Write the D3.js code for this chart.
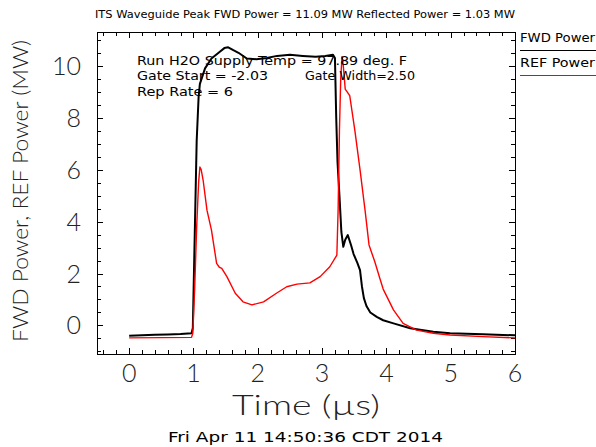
<!DOCTYPE html>
<html><head><meta charset="utf-8">
<script src="https://cdn.jsdelivr.net/npm/d3@7"></script>
<style>
html,body{margin:0;padding:0;background:#fff;}
svg{display:block;}
.big{font-family:Lato,"DejaVu Sans",sans-serif;font-weight:300;fill:#222;}
.small{font-family:"DejaVu Sans",sans-serif;fill:#000;}
</style></head>
<body>
<svg id="c" width="596" height="447"></svg>
<script>
// ---- data ----
const titleText = "ITS Waveguide Peak FWD Power = 11.09 MW  Reflected Power = 1.03 MW";
const annotLines = ["Run H2O Supply Temp = 97.89 deg. F", "Gate Start = -2.03", "Gate Width=2.50", "Rep Rate = 6"];
const dateText = "Fri Apr 11 14:50:36 CDT 2014";
const xTicks = [0, 1, 2, 3, 4, 5, 6];
const yTicks = [0, 2, 4, 6, 8, 10];
const seriesNames = ["FWD Power", "REF Power"];
const fwdTime = [0.0,0.2,0.4,0.6,0.8,0.97,0.99,1.02,1.05,1.08,1.10,1.18,1.28,1.41,1.48,1.54,1.62,1.70,1.83,1.98,2.14,2.3,2.5,2.7,2.9,3.05,3.17,3.20,3.22,3.24,3.27,3.30,3.33,3.36,3.40,3.45,3.49,3.55,3.59,3.62,3.65,3.69,3.75,3.85,3.95,4.11,4.37,4.73,4.99,5.5,6.0];
const fwdValue = [-0.40,-0.38,-0.36,-0.35,-0.33,-0.30,-0.1,3.5,7.1,8.8,9.3,9.9,10.28,10.54,10.68,10.71,10.6,10.5,10.28,10.25,10.3,10.38,10.42,10.38,10.35,10.38,10.42,10.3,8.0,6.3,5.0,3.6,3.03,3.3,3.48,3.1,2.75,2.4,2.13,1.5,1.05,0.75,0.5,0.33,0.2,0.08,-0.11,-0.24,-0.30,-0.34,-0.38];
const refTime = [0,0.5,0.97,0.99,1.02,1.05,1.08,1.10,1.12,1.15,1.21,1.28,1.36,1.40,1.44,1.52,1.65,1.77,1.91,2.09,2.29,2.45,2.61,2.81,2.97,3.12,3.23,3.25,3.27,3.29,3.31,3.33,3.36,3.43,3.51,3.59,3.67,3.73,3.82,3.90,3.95,4.11,4.26,4.47,4.73,4.99,5.5,6.0];
const refValue = [-0.48,-0.47,-0.46,-0.3,1.5,3.8,5.5,6.1,6.0,5.6,4.44,3.67,2.39,2.25,2.2,1.88,1.24,0.91,0.79,0.91,1.24,1.49,1.59,1.64,1.88,2.26,2.71,4.5,7.5,9.5,10.35,10.0,9.1,8.85,7.5,6.0,4.4,3.1,2.45,1.8,1.4,0.6,0.08,-0.18,-0.30,-0.37,-0.43,-0.48];

// ---- layout ----
const L = 97, R = 515, T = 32, B = 354;
const svg = d3.select("#c");
const x = d3.scaleLinear().domain([-0.5, 6]).range([L, R]);
const y = d3.scaleLinear().domain([-1.1, 11.3]).range([B, T]);

const xMinor = d3.range(-0.4, 6.0001, 0.2).map(v => +v.toFixed(2));
const yMinor = d3.range(-1.0, 11.0001, 0.5).map(v => +v.toFixed(2));
const isMaj = (arr, v) => arr.some(t => Math.abs(t - v) < 1e-6);

// plot frame
svg.append("rect").attr("x", L + 0.5).attr("y", T + 0.5).attr("width", R - L).attr("height", B - T)
  .attr("fill", "none").attr("stroke", "#000").attr("stroke-width", 1);

// ticks (inward on all four sides)
const tk = svg.append("g").attr("stroke", "#000").attr("stroke-width", 1);
xMinor.forEach(v => {
  const len = isMaj(xTicks, v) ? 6 : 4;
  const px = Math.round(x(v)) + 0.5;
  tk.append("line").attr("x1", px).attr("x2", px).attr("y1", B).attr("y2", B - len);
  tk.append("line").attr("x1", px).attr("x2", px).attr("y1", T).attr("y2", T + len);
});
yMinor.forEach(v => {
  const len = isMaj(yTicks, v) ? 6 : 4;
  const py = Math.round(y(v)) + 0.5;
  tk.append("line").attr("y1", py).attr("y2", py).attr("x1", L).attr("x2", L + len);
  tk.append("line").attr("y1", py).attr("y2", py).attr("x1", R).attr("x2", R - len);
});

// tick labels
svg.append("g").selectAll("text").data(xTicks).join("text")
  .attr("class", "big").attr("x", d => x(d)).attr("y", 382)
  .attr("text-anchor", "middle").attr("font-size", 25).text(d => d);
svg.append("g").selectAll("text").data(yTicks).join("text")
  .attr("class", "big").attr("x", 81).attr("y", d => y(d) + 9)
  .attr("text-anchor", "end").attr("font-size", 25).text(d => d);

// axis titles
svg.append("text").attr("class", "big").attr("x", 232).attr("y", 415)
  .attr("font-size", 28).attr("textLength", 148).attr("lengthAdjust", "spacingAndGlyphs").text("Time (\u00b5s)");
svg.append("text").attr("class", "big").attr("transform", "translate(28,342) rotate(-90)")
  .attr("x", 0).attr("y", 0).attr("font-size", 21).attr("textLength", 302).attr("lengthAdjust", "spacingAndGlyphs")
  .text("FWD Power, REF Power (MW)");

// title & date
svg.append("text").attr("class", "small").attr("x", 95).attr("y", 18)
  .attr("font-size", 11).attr("textLength", 420).attr("lengthAdjust", "spacingAndGlyphs").text(titleText);
svg.append("text").attr("class", "small").attr("x", 168).attr("y", 442)
  .attr("font-size", 13.5).attr("textLength", 275).attr("lengthAdjust", "spacingAndGlyphs").text(dateText);

// curves
const line = d3.line().x(d => x(d[0])).y(d => y(d[1]));
svg.append("path").datum(d3.zip(fwdTime, fwdValue)).attr("d", line)
  .attr("fill", "none").attr("stroke", "#000").attr("stroke-width", 2).attr("stroke-linejoin", "round");
svg.append("path").datum(d3.zip(refTime, refValue)).attr("d", line)
  .attr("fill", "none").attr("stroke", "#ff0000").attr("stroke-width", 1.4).attr("stroke-linejoin", "round");

// annotations
const ann = [
  {t: annotLines[0], x: 137, y: 65, w: 270},
  {t: annotLines[1], x: 137, y: 80, w: 131},
  {t: annotLines[2], x: 305, y: 80, w: 110},
  {t: annotLines[3], x: 137, y: 96, w: 96}
];
svg.append("g").selectAll("text").data(ann).join("text").attr("class", "small")
  .attr("x", d => d.x).attr("y", d => d.y).attr("font-size", 12)
  .attr("textLength", d => d.w).attr("lengthAdjust", "spacingAndGlyphs").text(d => d.t);

// legend
const legColors = ["#000", "#ff0000"];
seriesNames.forEach((n, i) => {
  svg.append("text").attr("class", "small").attr("x", 520).attr("y", 42 + i * 25)
    .attr("font-size", 13).attr("textLength", 75).attr("lengthAdjust", "spacingAndGlyphs").text(n);
  svg.append("line").attr("x1", 520).attr("x2", 596).attr("y1", 50.5 + i * 25).attr("y2", 50.5 + i * 25)
    .attr("stroke", legColors[i]).attr("stroke-width", 1);
});
</script>
</body></html>
